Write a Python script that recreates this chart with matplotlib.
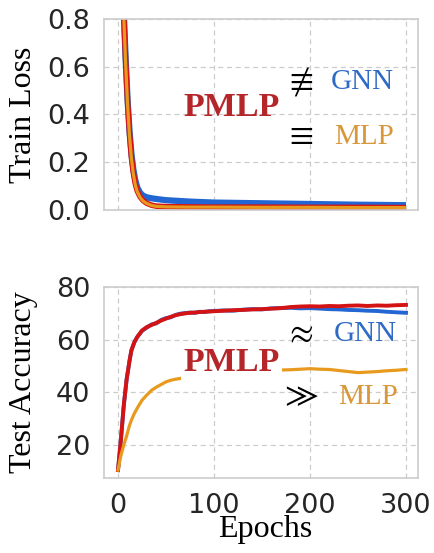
import matplotlib
matplotlib.use("Agg")
import matplotlib.pyplot as plt

# ---- data ----
loss_epochs = [0, 2, 4, 6, 8, 10, 12, 14, 16, 18, 20, 23, 26, 30, 35, 40, 50, 75, 100, 150, 200, 250, 300]
loss_gnn = [1.6, 1.25, 1.0, 0.83, 0.63, 0.46, 0.33, 0.235, 0.17, 0.125, 0.095, 0.072, 0.06, 0.053,
            0.049, 0.046, 0.041, 0.035, 0.031, 0.028, 0.025, 0.022, 0.02]
loss_pmlp = [1.6, 1.25, 1.0, 0.82, 0.62, 0.45, 0.32, 0.22, 0.155, 0.11, 0.08, 0.055, 0.04, 0.028,
             0.02, 0.016, 0.014, 0.013, 0.012, 0.012, 0.011, 0.011, 0.01]
loss_mlp = [1.6, 1.24, 0.99, 0.81, 0.61, 0.44, 0.31, 0.215, 0.15, 0.105, 0.077, 0.053, 0.038, 0.027,
            0.019, 0.015, 0.013, 0.012, 0.012, 0.011, 0.011, 0.01, 0.01]

acc_epochs = [0, 3, 6, 9, 12, 14, 17, 20, 25, 30, 35, 40, 45, 50, 55, 60, 65, 70, 75, 80, 85, 90, 95,
              100, 110, 120, 130, 140, 150, 160, 170, 180, 190, 200, 210, 220, 230, 240, 250, 260,
              270, 280, 290, 300]
acc_pmlp = [10.5, 22, 35, 45, 52, 56, 59, 61, 63.5, 64.8, 65.6, 66.4, 67.3, 68.0, 68.7, 69.3, 69.7,
            70.0, 70.2, 70.3, 70.5, 70.6, 70.7, 70.8, 71.0, 71.2, 71.3, 71.5, 71.6, 71.8, 72.0, 72.4,
            72.6, 72.7, 72.6, 72.8, 72.7, 72.9, 73.0, 72.8, 73.0, 72.9, 73.1, 73.2]
acc_gnn = [10.5, 22, 35, 45, 52, 56, 59, 61, 63.3, 64.6, 65.8, 66.2, 67.5, 68.2, 68.5, 69.4, 69.9,
           70.1, 70.3, 70.2, 70.6, 70.5, 70.8, 70.9, 71.1, 71.0, 71.4, 71.6, 71.5, 71.9, 72.0, 72.1,
           71.9, 72.0, 71.8, 71.6, 71.5, 71.3, 71.2, 71.0, 70.9, 70.6, 70.4, 70.2]
acc_mlp = [10.5, 16, 20, 23.5, 27.5, 29.5, 32, 34, 37, 39, 40.8, 42, 43, 44, 44.6, 45, 45.3, 45.5,
           45.8, 46.0, 46.2, 46.5, 46.7, 47.0, 47.3, 47.6, 47.9, 48.1, 48.3, 48.4, 48.5, 48.6, 48.8,
           49.0, 48.8, 48.7, 48.3, 47.9, 47.5, 47.7, 47.9, 48.2, 48.4, 48.7]

C_GNN = "#2166d2"
C_PMLP = "#d41414"
C_MLP = "#e89a1e"
C_PMLP_TXT = "#b5262a"
C_GNN_TXT = "#2f6ac6"
C_MLP_TXT = "#d8983a"

serif = ["Liberation Serif", "DejaVu Serif"]
sym = ["STIXGeneral", "DejaVu Sans"]

fig = plt.figure(figsize=(4.34, 5.53), dpi=100)
ax1 = fig.add_axes([0.2396, 0.6203, 0.7235, 0.3453])
ax2 = fig.add_axes([0.2396, 0.1356, 0.7235, 0.3454])

for ax in (ax1, ax2):
    ax.set_xlim(-14.6, 312.5)
    ax.set_xticks([0, 100, 200, 300])
    ax.grid(True, linestyle=(0, (4, 3)), color="#cccccc", linewidth=0.9)
    ax.set_axisbelow(True)
    for sp in ax.spines.values():
        sp.set_color("#cccccc")
        sp.set_linewidth(1.2)
    ax.tick_params(length=0, labelsize=19.5, labelcolor="#262626", pad=10)

# top: train loss
ax1.plot(loss_epochs, loss_gnn, color=C_GNN, lw=4.5, solid_capstyle="butt")
ax1.plot(loss_epochs, loss_pmlp, color=C_PMLP, lw=4.0, solid_capstyle="butt")
ax1.plot(loss_epochs, loss_mlp, color=C_MLP, lw=2.3, solid_capstyle="butt")
ax1.set_ylim(0, 0.8)
ax1.set_yticks([0.0, 0.2, 0.4, 0.6, 0.8])
ax1.set_xticklabels([])
ax1.set_ylabel("Train Loss", family=serif, fontsize=23, va="center")
ax1.yaxis.set_label_coords(-0.255, 0.5)

ax1.text(118, 0.43, "PMLP", family=serif, weight="bold", fontsize=24.5, color=C_PMLP_TXT,
         ha="center", va="center")
ax1.text(191, 0.535, "\u2262", family=sym, fontsize=25, ha="center", va="center")
ax1.text(255, 0.535, "GNN", family=serif, fontsize=21, color=C_GNN_TXT, ha="center", va="center")
ax1.text(191, 0.305, "\u2261", family=sym, fontsize=25, ha="center", va="center")
ax1.text(256, 0.305, "MLP", family=serif, fontsize=21, color=C_MLP_TXT, ha="center", va="center")

# bottom: test accuracy
ax2.plot(acc_epochs, acc_gnn, color=C_GNN, lw=2.8)
ax2.plot(acc_epochs, acc_pmlp, color=C_PMLP, lw=2.8)
ax2.plot(acc_epochs, acc_mlp, color=C_MLP, lw=2.3)
ax2.set_ylim(7.5, 80)
ax2.set_yticks([20, 40, 60, 80])
ax2.tick_params(axis="x", pad=11)
ax2.set_ylabel("Test Accuracy", family=serif, fontsize=23, va="center")
ax2.yaxis.set_label_coords(-0.255, 0.5)
ax2.set_xlabel("Epochs", family=serif, fontsize=23, va="center")
ax2.xaxis.set_label_coords(0.513, -0.272)

ax2.text(118, 51.5, "PMLP", family=serif, weight="bold", fontsize=24.5, color=C_PMLP_TXT,
         ha="center", va="center",
         bbox=dict(facecolor="white", edgecolor="none", pad=1.5))
ax2.text(191, 62, "\u2248", family=sym, fontsize=25, ha="center", va="center")
ax2.text(258, 62, "GNN", family=serif, fontsize=21, color=C_GNN_TXT, ha="center", va="center")
ax2.text(191, 38.2, "\u226b", family=sym, fontsize=25, ha="center", va="center")
ax2.text(260, 38.2, "MLP", family=serif, fontsize=21, color=C_MLP_TXT, ha="center", va="center")

fig.savefig("out.png", dpi=100)
